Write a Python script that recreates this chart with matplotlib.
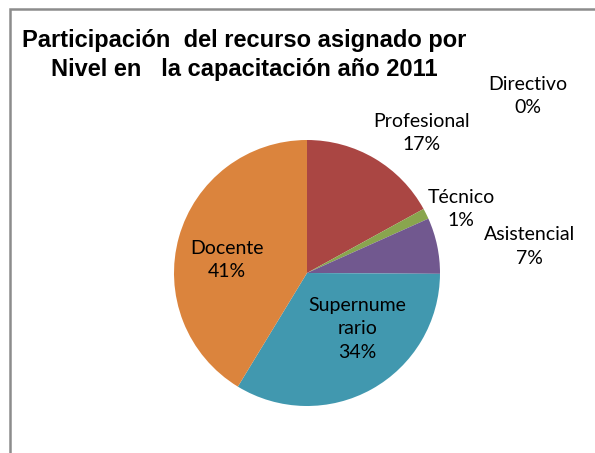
import matplotlib.pyplot as plt
from matplotlib.patches import Rectangle

# data
categories = ["Directivo", "Profesional", "Técnico", "Asistencial", "Supernumerario", "Docente"]
values = [0.0, 17.0, 1.3, 6.8, 33.6, 41.3]
pct_labels = ["0%", "17%", "1%", "7%", "34%", "41%"]
label_text = ["Directivo", "Profesional", "Técnico", "Asistencial", "Supernume\nrario", "Docente"]
colors = ["#4572A7", "#AA4643", "#89A54E", "#71588F", "#4198AF", "#DB843D"]

# label placement in units of pie radius (x, y from centre)
label_pos = [(1.66, 1.33), (0.86, 1.05), (1.16, 0.48), (1.67, 0.20), (0.38, -0.42), (-0.60, 0.10)]

W, H = 595, 453
fig = plt.figure(figsize=(W / 100, H / 100), dpi=100)
ax = fig.add_axes([0, 0, 1, 1])

cx, cy, R = 307, H - 273, 133
ax.pie(values, colors=colors, startangle=90, counterclock=False,
       center=(cx, cy), radius=R, wedgeprops=dict(linewidth=0), frame=True)
ax.set_xlim(0, W)
ax.set_ylim(0, H)
ax.set_aspect("equal")
ax.axis("off")

for txt, pct, (lx, ly) in zip(label_text, pct_labels, label_pos):
    ax.text(cx + lx * R, cy + ly * R, txt + "\n" + pct, ha="center", va="center",
            fontsize=14, family="Lato", linespacing=1.45, color="black")

# title
ax.text(244, H - 55, "Participación  del recurso asignado por\nNivel en   la capacitación año 2011",
        ha="center", va="center", fontsize=17, fontweight="bold",
        family="Liberation Sans", linespacing=1.3)

# chart frame (only top and left edges visible)
fig.patches.append(Rectangle((10 / W, -0.1), 1.2, (H - 9) / H + 0.1, transform=fig.transFigure,
                             fill=False, edgecolor="#8C8C8C", linewidth=1.8))

fig.savefig("out.png", dpi=100)
